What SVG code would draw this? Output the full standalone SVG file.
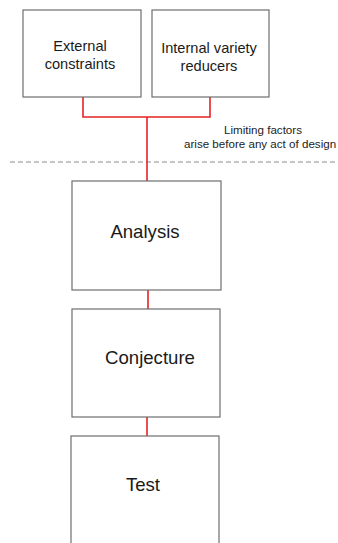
<svg xmlns="http://www.w3.org/2000/svg" width="338" height="543" viewBox="0 0 338 543">
  <style>
    .box { fill: #ffffff; stroke: #6e6e6e; stroke-width: 1.2; }
    .lbl { font-family: "Liberation Sans", Arial, sans-serif; fill: #1a1a1a; text-anchor: middle; }
    .small { font-size: 14.6px; }
    .big { font-size: 18.6px; }
    .note { font-family: "Liberation Sans", Arial, sans-serif; font-size: 11.6px; fill: #222; }
    .link { fill: none; stroke: #e52222; stroke-width: 1.6; }
  </style>
  <rect width="338" height="543" fill="#ffffff"/>

  <!-- divider between prior limits and the design process -->
  <line x1="10" y1="162" x2="336" y2="162" stroke="#8a8a8a" stroke-width="1" stroke-dasharray="5,3"/>
  <text class="note" x="263" y="134" text-anchor="middle">Limiting factors</text>
  <text class="note" x="184" y="148">arise before any act of design</text>

  <g id="connectors">
    <polyline class="link" points="83,97 83,117 210,117 210,97"/>
    <line class="link" x1="147" y1="117" x2="147" y2="181"/>
    <line class="link" x1="148" y1="290" x2="148" y2="309"/>
    <line class="link" x1="147" y1="417" x2="147" y2="436"/>
  </g>

  <g id="external-constraints">
    <rect class="box" x="23" y="10" width="118" height="87"/>
    <text class="lbl small" x="80" y="51">External</text>
    <text class="lbl small" x="80" y="69">constraints</text>
  </g>

  <g id="internal-variety-reducers">
    <rect class="box" x="152" y="10" width="117" height="87"/>
    <text class="lbl small" x="209" y="53">Internal variety</text>
    <text class="lbl small" x="209" y="71">reducers</text>
  </g>

  <g id="analysis">
    <rect class="box" x="72" y="181" width="149" height="109"/>
    <text class="lbl big" x="145" y="238">Analysis</text>
  </g>

  <g id="conjecture">
    <rect class="box" x="72" y="309" width="148" height="108"/>
    <text class="lbl big" x="150" y="364">Conjecture</text>
  </g>

  <g id="test">
    <rect class="box" x="71" y="436" width="148" height="120"/>
    <text class="lbl big" x="143" y="491">Test</text>
  </g>
</svg>
